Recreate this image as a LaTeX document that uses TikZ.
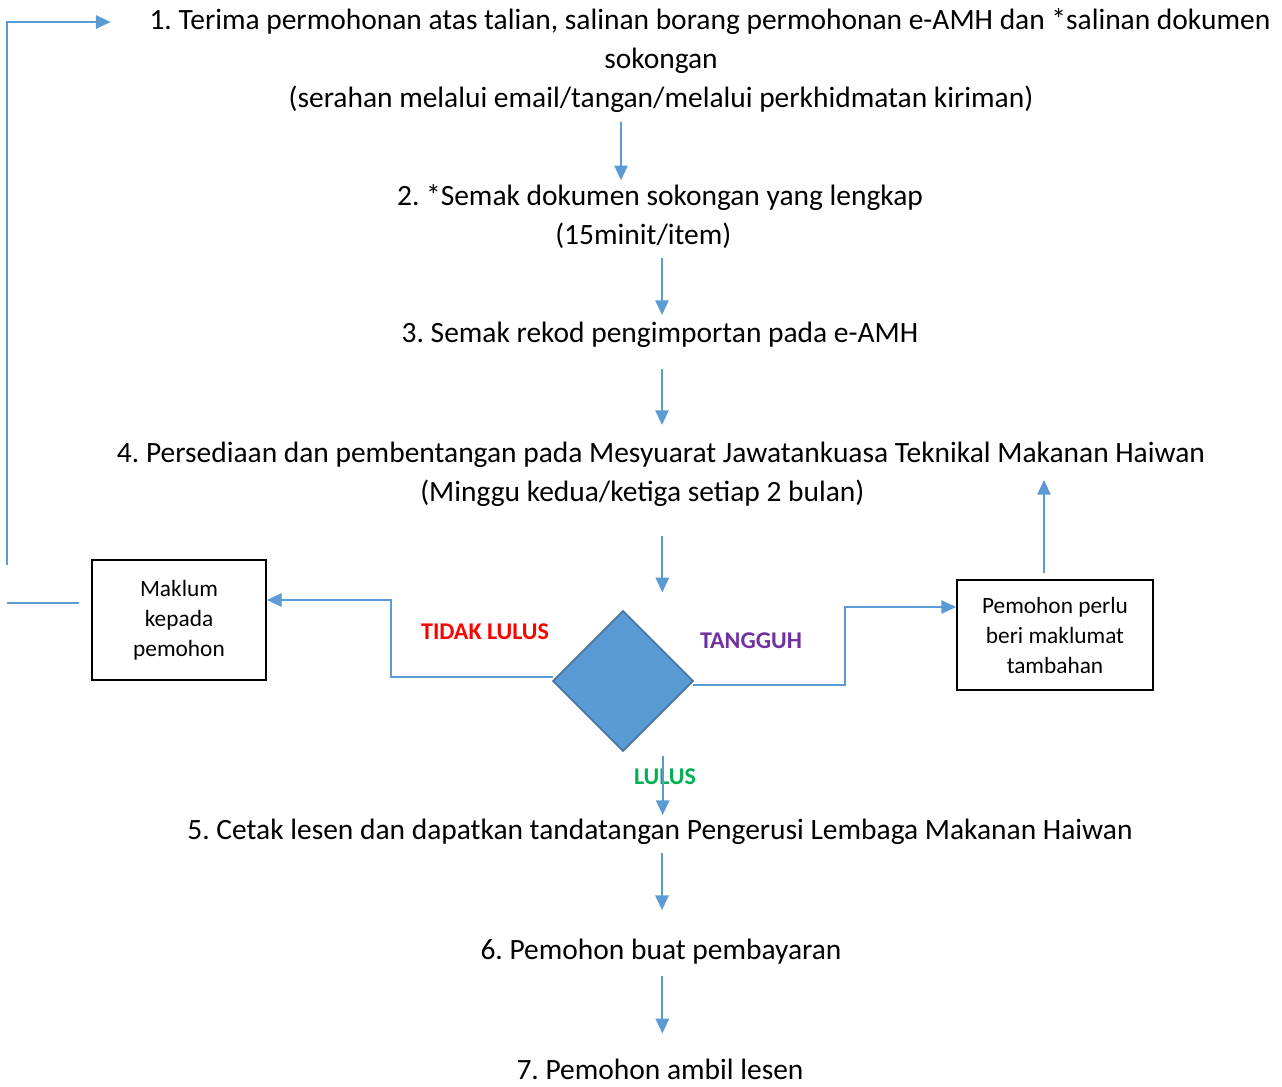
\documentclass[tikz,border=0pt]{standalone}
\usepackage{fontspec}
\setmainfont{Carlito}
\frenchspacing
\definecolor{flowBlue}{RGB}{91,155,213}
\definecolor{diamondEdge}{RGB}{65,113,156}
\definecolor{failRed}{RGB}{255,0,0}
\definecolor{holdPurple}{RGB}{112,48,160}
\definecolor{passGreen}{RGB}{0,176,80}
\usetikzlibrary{
    arrows.meta,
    positioning,
    shapes.geometric
}
\tikzset{
    licenceFlow/.style={
        stepText/.style={
            font=\fontsize{22.1}{29.25}\selectfont,
            align=center,
            inner sep=3pt,
        },
        infoBox/.style={
            rectangle,
            draw,
            line width=1.3pt,
            font=\fontsize{17.5}{22.5}\selectfont,
            align=center,
            inner sep=2pt,
        },
        decision/.style={
            diamond,
            draw=diamondEdge,
            fill=flowBlue,
            line width=1.3pt,
            minimum width=105pt,
            minimum height=105pt,
            inner sep=0pt,
            outer sep=0pt,
        },
        verdict/.style={
            font=\fontsize{18}{22}\selectfont\bfseries,
        },
        arrow/.style={
            draw=flowBlue,
            line width=1.3pt,
            -{Triangle[length=11pt,width=10pt]},
        },
        thinArrow/.style={
            draw=flowBlue,
            line width=0.8pt,
            -{Triangle[length=11pt,width=10pt]},
        },
        loopLine/.style={
            draw=flowBlue,
            line width=1.3pt,
        },
    }
}
\begin{document}
\begin{tikzpicture}[licenceFlow, x=0.75pt, y=-0.75pt]
    \useasboundingbox (0,0) rectangle (1282,1086);

    % steps
    \node[stepText] (step1) at (710,22) {1. Terima permohonan atas talian, salinan borang permohonan e-AMH dan *salinan dokumen};
    \node[stepText] (step1b) at (661,80) {sokongan\\(serahan melalui email/tangan/melalui perkhidmatan kiriman)};
    \node[stepText] (step2) at (660,216.5) {2. *Semak dokumen sokongan yang lengkap\\(15minit/item)\hspace*{25pt}};
    \node[stepText] (step3) at (660,335) {3. Semak rekod pengimportan pada e-AMH};
    \node[stepText] (step4) at (661,474.5) {4. Persediaan dan pembentangan pada Mesyuarat Jawatankuasa Teknikal Makanan Haiwan\\(Minggu kedua/ketiga setiap 2 bulan)\hspace*{28pt}};
    \node[stepText] (step5) at (660,832) {5. Cetak lesen dan dapatkan tandatangan Pengerusi Lembaga Makanan Haiwan};
    \node[stepText] (step6) at (661,952) {6. Pemohon buat pembayaran};
    \node[stepText] (step7) at (660,1069) {7. Pemohon ambil lesen};

    % decision and outcomes
    \node[decision] (decide) at (623,681) {};
    \node[infoBox, minimum width=130.5pt, minimum height=90pt] (maklum) at (179,620) {Maklum\\kepada\\pemohon};
    \node[infoBox, minimum width=147pt, minimum height=82.5pt] (pemohon) at (1055,635) {Pemohon perlu\\beri maklumat\\tambahan};
    \node[verdict, text=failRed] (tidakLulus) at (485,632) {TIDAK LULUS};
    \node[verdict, text=holdPurple] (tangguh) at (751,641) {TANGGUH};
    \node[verdict, text=passGreen] (lulus) at (665,777) {LULUS};

    \coordinate (backTo4) at (1044,480);
    \coordinate (loopStart) at (7,565);

    % connectors
    \draw[arrow, shorten <=3.75pt] ([xshift=-30pt]step1b.south) -- ([xshift=-30pt]step1b.south |- step2.north);
    \draw[arrow, shorten <=3.75pt, shorten >=2.25pt] ([xshift=1.5pt]step2.south) -- ([xshift=1.5pt]step2.south |- step3.north);
    \draw[arrow, shorten <=12.75pt, shorten >=9.75pt] ([xshift=1.5pt]step3.south) -- ([xshift=1.5pt]step3.south |- step4.north);
    \draw[arrow, shorten <=18.75pt, shorten >=14pt] ([xshift=1pt]step4.south) -- ([xshift=1pt]step4.south |- decide.north);
    \draw[arrow, shorten <=3.75pt] ([xshift=2pt]decide.south -| step5.north) -- ([xshift=2pt]step5.north);
    \draw[arrow, shorten <=3pt, shorten >=18.75pt] ([xshift=1.5pt]step5.south) -- ([xshift=1.5pt]step5.south |- step6.north);
    \draw[arrow, shorten <=5.25pt, shorten >=15.75pt] ([xshift=1pt]step6.south) -- ([xshift=1pt]step6.south |- step7.north);

    \draw[thinArrow] ([yshift=3pt]decide.west) -- ++(-162,0) |- ([yshift=15pt]maklum.east);
    \draw[thinArrow] ([yshift=-3pt]decide.east) -- ++(152,0) |- ([yshift=21pt]pemohon.west);
    \draw[arrow, shorten <=4.5pt] (pemohon.north -| backTo4) -- (backTo4);

    \draw[loopLine] ([shift={(-12,-17)}]maklum.west) -- ++(-72,0);
    \draw[arrow] (loopStart) |- ([xshift=-26pt]step1.west);
\end{tikzpicture}
\end{document}
